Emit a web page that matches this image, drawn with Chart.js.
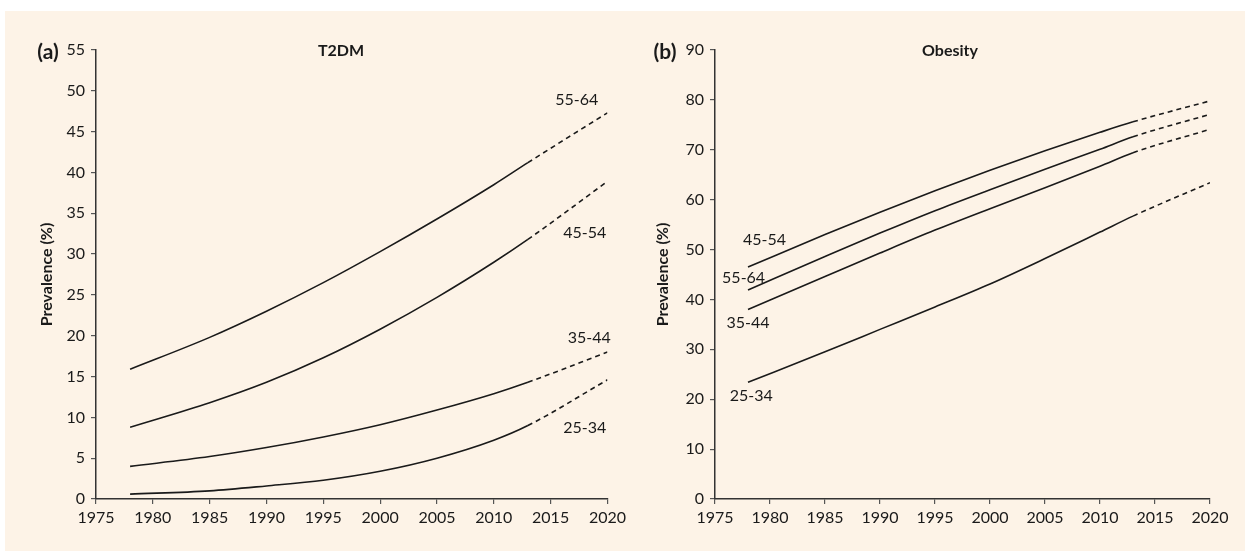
<!DOCTYPE html>
<html>
<head>
<meta charset="utf-8">
<script src="https://cdn.jsdelivr.net/npm/chart.js@4/dist/chart.umd.min.js"></script>
<style>
  html, body { margin: 0; padding: 0; background: #ffffff; }
  #bg { position: absolute; left: 5px; top: 11px; width: 1240px; height: 540px; background: #FDF3E7; }
  canvas { position: absolute; top: 0; }
  #c1 { left: 0px; }
  #c2 { left: 620px; }
</style>
</head>
<body>
<div id="bg"></div>
<canvas id="c1" width="630" height="551"></canvas>
<canvas id="c2" width="630" height="551"></canvas>
<script>
// ---- data ----
const years = [1978, 1985, 1990, 1995, 2000, 2005, 2010, 2013, 2020];
const projectionStart = 2013;
const ageGroups = ['55-64', '45-54', '35-44', '25-34'];

const t2dm_55_64 = [15.9, 19.8, 23.0, 26.5, 30.3, 34.3, 38.5, 41.2, 47.3];
const t2dm_45_54 = [8.8, 11.8, 14.3, 17.3, 20.8, 24.7, 29.0, 31.8, 38.9];
const t2dm_35_44 = [4.0, 5.2, 6.3, 7.6, 9.1, 10.9, 12.9, 14.3, 18.0];
const t2dm_25_34 = [0.6, 1.0, 1.6, 2.3, 3.4, 5.0, 7.2, 9.0, 14.6];

const obesity_55_64 = [41.9, 48.6, 53.3, 57.8, 62.0, 66.1, 70.1, 72.6, 77.1];
const obesity_45_54 = [46.5, 53.0, 57.5, 61.8, 65.9, 69.8, 73.5, 75.6, 79.8];
const obesity_35_44 = [38.0, 44.6, 49.3, 53.9, 58.2, 62.4, 66.7, 69.4, 74.1];
const obesity_25_34 = [23.4, 29.5, 34.0, 38.5, 43.1, 48.2, 53.5, 56.7, 63.4];

// label anchors (year, value) per age group
const t2dmLabelAt = [[2017.3, 48.9], [2018.0, 32.6], [2018.4, 19.8], [2018.0, 8.75]];
const obesityLabelAt = [[1977.6, 44.3], [1979.5, 52.0], [1978.0, 35.3], [1978.3, 20.7]];

const xTicksMin = 1975, xTicksMax = 2020, xStep = 5;
const t2dmYMax = 55, t2dmYStep = 5;
const obesityYMax = 90, obesityYStep = 10;

// ---- helpers ----
const FONT = 'Lato, "Liberation Sans", sans-serif';
const INK = '#1a1a1a';

function makeDataset(label, values) {
  return {
    label,
    data: years.map((y, i) => ({ x: y, y: values[i] })),
    borderColor: INK,
    borderWidth: 1.6,
    pointRadius: 0,
    fill: false,
    cubicInterpolationMode: 'monotone',
    segment: {
      borderDash: ctx => (ctx.p0.parsed.x >= projectionStart ? [5, 4] : undefined)
    }
  };
}

function annotatePlugin(panelTitle, titleX, tag, tagX, labelAt) {
  return {
    id: 'annot',
    afterDatasetsDraw(chart) {
      const { ctx, scales } = chart;
      ctx.save();
      ctx.fillStyle = INK;
      ctx.textAlign = 'center';
      ctx.textBaseline = 'middle';
      ctx.font = 'bold 16px ' + FONT;
      ctx.fillText(panelTitle, titleX, 51);
      ctx.font = 'bold 21px ' + FONT;
      ctx.fillText(tag, tagX, 52);
      ctx.font = '16px ' + FONT;
      ageGroups.forEach((g, i) => {
        const [yr, v] = labelAt[i];
        ctx.fillText(g, scales.x.getPixelForValue(yr), scales.y.getPixelForValue(v));
      });
      ctx.restore();
    }
  };
}

function makeChart(canvasId, seriesList, yMax, yStep, yAxisWidth, rightPad, titlePad, plugin) {
  return new Chart(document.getElementById(canvasId), {
    type: 'line',
    data: {
      datasets: seriesList.map(s => makeDataset(s[0], s[1]))
    },
    options: {
      responsive: false,
      animation: false,
      devicePixelRatio: 1,
      layout: { padding: { left: 0, right: rightPad, top: 50, bottom: 0 } },
      plugins: { legend: { display: false }, tooltip: { enabled: false } },
      scales: {
        x: {
          type: 'linear',
          min: xTicksMin,
          max: xTicksMax,
          afterFit: s => { s.height = 52; },
          border: { display: true, color: '#333', width: 1.5 },
          grid: { drawOnChartArea: false, drawTicks: true, tickLength: 5, color: '#555', lineWidth: 1.2 },
          ticks: {
            stepSize: xStep, autoSkip: false, maxRotation: 0, padding: 4,
            color: INK, font: { family: FONT, size: 16 },
            callback: v => String(v)
          }
        },
        y: {
          min: 0,
          max: yMax,
          afterFit: s => { s.width = yAxisWidth; },
          border: { display: true, color: '#333', width: 1.5 },
          grid: { drawOnChartArea: false, drawTicks: true, tickLength: 5, color: '#555', lineWidth: 1.2 },
          ticks: {
            stepSize: yStep, padding: 6,
            color: INK, font: { family: FONT, size: 16 }
          },
          title: {
            display: true,
            text: 'Prevalence (%)',
            color: INK,
            font: { family: FONT, size: 16, weight: 'bold' },
            padding: { top: titlePad, bottom: 0 }
          }
        }
      }
    },
    plugins: [plugin]
  });
}

makeChart('c1',
  [['55-64', t2dm_55_64], ['45-54', t2dm_45_54], ['35-44', t2dm_35_44], ['25-34', t2dm_25_34]],
  t2dmYMax, t2dmYStep, 96, 22, 37,
  annotatePlugin('T2DM', 341, '(a)', 48, t2dmLabelAt));

makeChart('c2',
  [['55-64', obesity_55_64], ['45-54', obesity_45_54], ['35-44', obesity_35_44], ['25-34', obesity_25_34]],
  obesityYMax, obesityYStep, 95, 40, 33,
  annotatePlugin('Obesity', 330, '(b)', 45, obesityLabelAt));
</script>
</body>
</html>
